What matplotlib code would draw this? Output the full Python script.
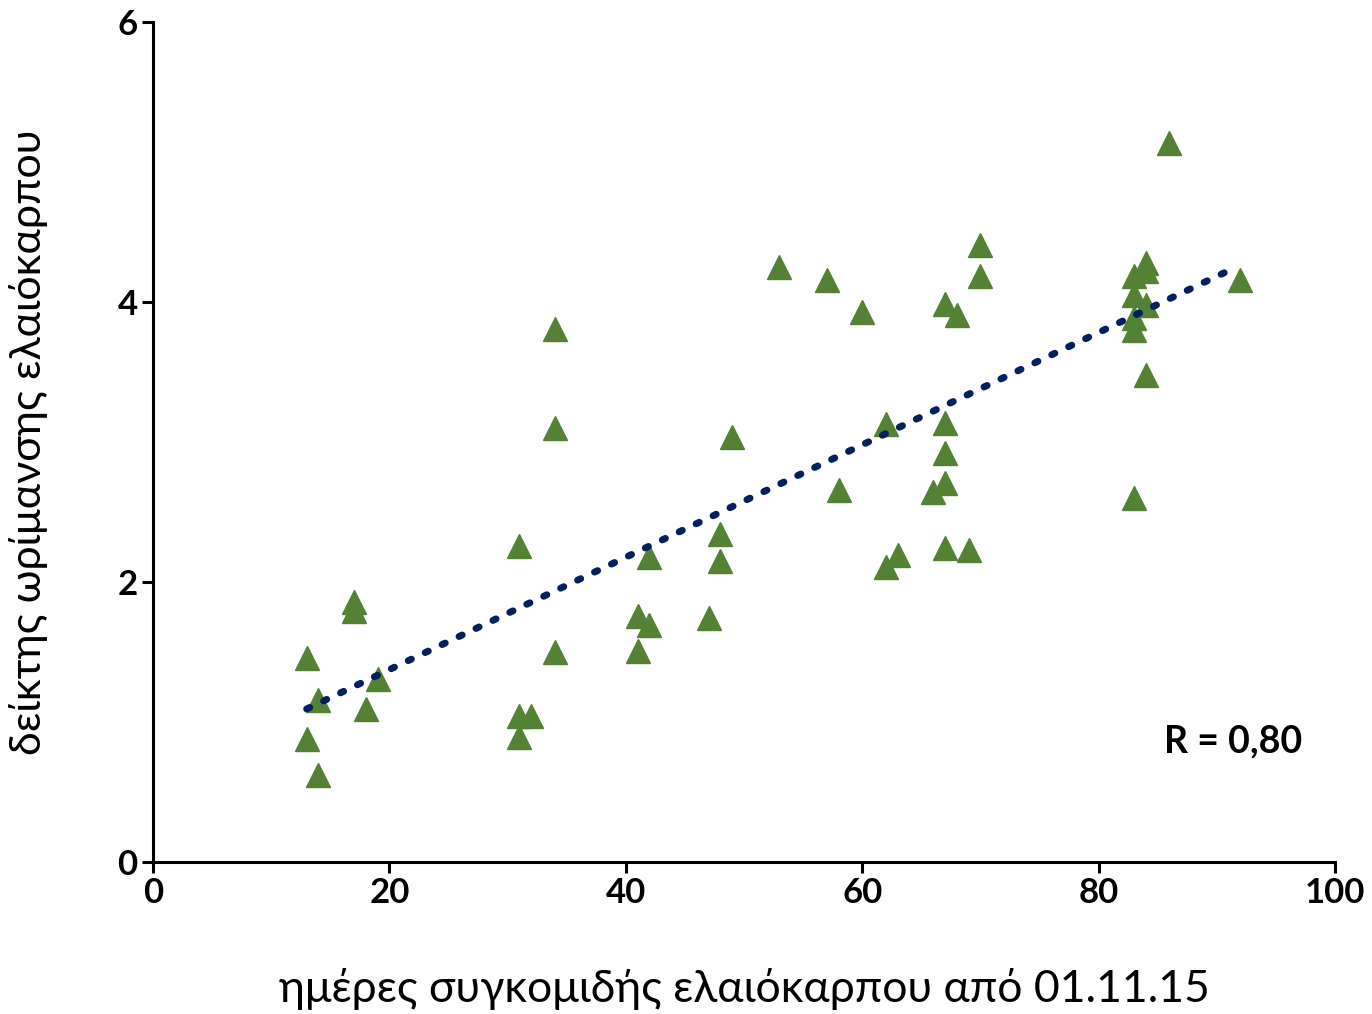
import numpy as np
import matplotlib.pyplot as plt

# harvest day (from 01.11.15) and maturity index
days = [13, 13, 14, 14, 17, 17, 18, 19,
        31, 31, 31, 32, 34, 34, 34,
        41, 41, 42, 42, 47, 48, 48, 49,
        53, 57, 60, 58, 62, 62, 63, 66,
        67, 67, 67, 67, 67, 68, 69, 70, 70,
        86, 84, 84, 83, 83, 84, 83, 83, 84, 83, 92]
index = [1.46, 0.88, 0.62, 1.16, 1.86, 1.79, 1.09, 1.31,
         2.26, 1.04, 0.89, 1.04, 3.81, 3.10, 1.50,
         1.76, 1.51, 2.18, 1.69, 1.74, 2.34, 2.15, 3.04,
         4.25, 4.16, 3.93, 2.66, 3.13, 2.11, 2.19, 2.64,
         3.99, 3.14, 2.92, 2.71, 2.24, 3.91, 2.23, 4.41, 4.19,
         5.14, 4.28, 4.22, 4.19, 4.05, 3.98, 3.89, 3.80, 3.48, 2.60, 4.16]
xticks = [0, 20, 40, 60, 80, 100]
yticks = [0, 2, 4, 6]

plt.rcParams['font.family'] = ['Lato', 'DejaVu Sans']

fig = plt.figure(figsize=(13.72, 10.14), dpi=100)
ax = fig.add_axes([0.1115, 0.150, 0.8615, 0.828])

x = np.array(days, dtype=float)
y = np.array(index, dtype=float)
ax.plot(x, y, linestyle='none', marker='^', markersize=17,
        color='#548235', zorder=2)

# linear trend line
k, b = np.polyfit(x, y, 1)
xt = np.linspace(x.min(), 91, 100)
ax.plot(xt, k * xt + b, linestyle=(0, (0.5, 2.2)), dash_capstyle='round',
        linewidth=5, color='#002060', zorder=3)

ax.text(97.2, 0.86, 'R = 0,80', ha='right', va='center',
        fontsize=27, fontweight='bold')

ax.set_xlim(0, 100)
ax.set_ylim(0, 6)
ax.set_xticks(xticks)
ax.set_yticks(yticks)
for lab in ax.get_xticklabels() + ax.get_yticklabels():
    lab.set_fontweight('bold')
ax.tick_params(labelsize=25, width=2.2, length=8, direction='out', pad=3)

for s in ['top', 'right']:
    ax.spines[s].set_visible(False)
for s in ['left', 'bottom']:
    ax.spines[s].set_linewidth(2.2)

ax.set_xlabel('ημέρες συγκομιδής ελαιόκαρπου από 01.11.15', fontsize=32, labelpad=42)
ax.set_ylabel('δείκτης ωρίμανσης ελαιόκαρπου', fontsize=31, labelpad=50)

fig.savefig('out.png', dpi=100)
